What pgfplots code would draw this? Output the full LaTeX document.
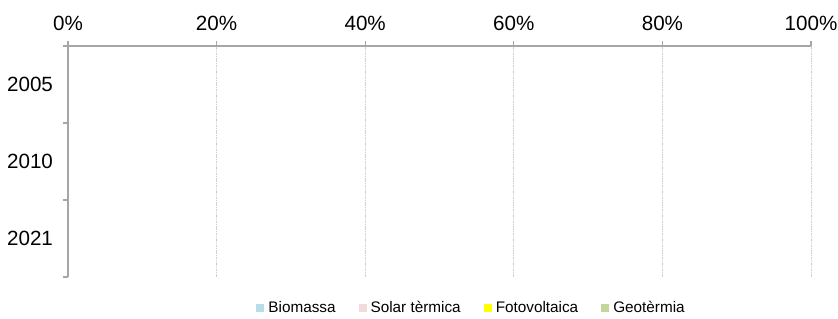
\documentclass[border=0pt]{standalone}
\usepackage{pgfplots}
\pgfplotsset{compat=1.18}
\usepackage{fontspec}
\setmainfont{Liberation Sans}
\definecolor{cBio}{HTML}{B7DDE8}
\definecolor{cSol}{HTML}{F2DCDB}
\definecolor{cFot}{HTML}{FFFF00}
\definecolor{cGeo}{HTML}{C3D69B}
\definecolor{axgray}{HTML}{A6A6A6}
\definecolor{grgray}{HTML}{D0D0D0}
\begin{document}
\begin{tikzpicture}
\useasboundingbox (0,0) rectangle (419pt,159pt);
\begin{axis}[
  at={(34pt,20.5pt)}, anchor=south west,
  scale only axis, width=371.5pt, height=115.5pt,
  xbar stacked,
  xmin=0, xmax=100, ymin=-0.5, ymax=2.5, y dir=reverse,
  axis x line*=top, axis y line*=left,
  axis line style={axgray, line width=0.6pt},
  xtick={0,20,40,60,80,100},
  xticklabel={\pgfmathprintnumber{\tick}\%},
  /pgf/number format/assume math mode=true,
  ytick={0,1,2}, yticklabels={2005,2010,2021},
  minor ytick={-0.5,0.5,1.5,2.5},
  tick align=outside,
  major x tick style={axgray, line width=0.6pt},
  major y tick style={draw=none},
  minor y tick style={axgray, line width=0.6pt},
  major tick length=2.5pt, minor tick length=2.5pt,
  xmajorgrids, grid style={grgray, dash pattern=on 0.8pt off 0.4pt, line width=0.5pt},
  tick label style={font=\fontsize{10.3}{12}\selectfont, text=black},
  yticklabel style={xshift=-1.5pt},
  xticklabel style={yshift=1.5pt},
  bar width=10pt,
  legend columns=4,
  legend style={at={(0.5445,-0.134)}, anchor=center, draw=none,
    font=\fontsize{7.65}{9}\selectfont, inner sep=0pt,
    /tikz/every even column/.append style={column sep=9.5pt}},
  legend image code/.code={\fill[#1] (0pt,-2pt) rectangle (4pt,2pt);},
]
\addplot[fill=cBio, draw=none] coordinates {(0,0) (0,1) (0,2)};
\addlegendentry{Biomassa}
\addplot[fill=cSol, draw=none] coordinates {(0,0) (0,1) (0,2)};
\addlegendentry{Solar tèrmica}
\addplot[fill=cFot, draw=none] coordinates {(0,0) (0,1) (0,2)};
\addlegendentry{Fotovoltaica}
\addplot[fill=cGeo, draw=none] coordinates {(0,0) (0,1) (0,2)};
\addlegendentry{Geotèrmia}
\end{axis}
\end{tikzpicture}
\end{document}
